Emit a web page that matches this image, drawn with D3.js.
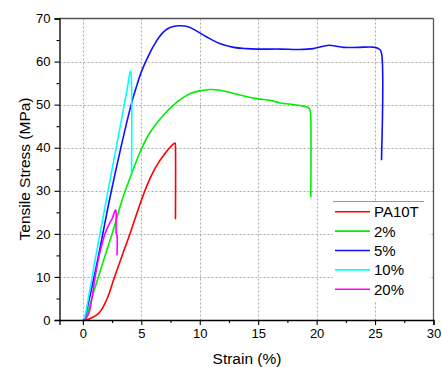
<!DOCTYPE html>
<html>
<head>
<meta charset="utf-8">
<script src="https://cdn.jsdelivr.net/npm/d3@7"></script>
<style>
html,body{margin:0;padding:0;background:#fff;}
svg text{font-family:"Liberation Sans",Arial,sans-serif;}
</style>
</head>
<body>
<svg id="chart" width="442" height="367"></svg>
<script>
const seriesNames = ["PA10T", "2%", "5%", "10%", "20%"];
const seriesColors = ["#ff0000", "#00ee00", "#1010ff", "#00ffff", "#ff00ff"];
const xTicks = [0, 5, 10, 15, 20, 25, 30];
const yTicks = [0, 10, 20, 30, 40, 50, 60, 70];

const pa10t = [[0,0],[0.5,0.2],[0.9,0.7],[1.3,1.4],[1.6,2.4],[1.9,3.9],[2.2,5.8],[2.62,9.3],[3.3,14.5],[4.04,20.1],[4.9,27],[5.5,31.3],[6.2,35.3],[7.0,38.6],[7.6,40.5],[7.89,41.1],[7.92,40],[7.92,23.4]];
const s2 = [[0,0],[0.2,0.4],[0.6,3.5],[1.0,7.2],[1.5,11.5],[2.0,15.8],[2.5,20.0],[3.0,24.6],[3.4,28.2],[4.2,34.2],[4.9,39],[5.6,42.9],[6.3,45.6],[7.0,47.9],[7.75,49.9],[8.5,51.5],[9.2,52.6],[10,53.2],[10.9,53.5],[11.6,53.4],[12.3,53.0],[13.5,52.2],[14.9,51.4],[16,51],[16.9,50.4],[18,50],[18.85,49.65],[19.3,49.3],[19.45,48.6],[19.5,47],[19.5,28.5]];
const s5 = [[0,0],[0.1,0],[0.3,2],[1.0,10.5],[1.6,18.5],[2.27,27.8],[3.3,40.6],[4.16,50.3],[4.6,54.3],[5.0,57.6],[5.5,60.7],[6.0,63.4],[6.5,65.6],[7.18,67.5],[7.8,68.2],[8.32,68.3],[9,68.1],[9.6,67.3],[10.6,65.7],[11.7,64.2],[12.9,63.3],[14,63.0],[14.9,62.9],[16.9,62.9],[18.5,62.8],[19.7,63.0],[20.5,63.5],[21.1,63.8],[21.6,63.6],[22.3,63.3],[23.5,63.3],[25.0,63.3],[25.4,62.8],[25.55,62],[25.55,37.1]];
const s10 = [[0,0],[0.1,0.2],[0.5,5.5],[1.0,13.2],[1.45,19.8],[2.0,27.8],[2.6,36.4],[3.3,46.5],[3.8,53.8],[4.07,57.8],[4.12,57.5],[4.16,55],[4.16,34.2]];
const s20 = [[0,0],[0.2,0.2],[0.5,1.5],[0.8,5.5],[1.05,10],[1.4,15],[1.9,20.1],[2.2,22],[2.5,23.5],[2.78,25.5],[2.83,25.3],[2.86,20],[2.92,19.6],[2.92,15]];
const seriesData = [pa10t, s2, s5, s10, s20];

const svg = d3.select("#chart");
const L = 59.5, R = 433.5, T = 18.5, B = 320;
const x = d3.scaleLinear().domain([-2, 30]).range([L, R]);
const y = d3.scaleLinear().domain([0, 70]).range([B, T]);

// grid
const grid = svg.append("g").attr("stroke", "#aaa").attr("stroke-width", 1).attr("stroke-dasharray", "2,2");
[0,5,10,15,20,25].forEach(v => grid.append("line").attr("x1", Math.round(x(v))+0.5).attr("x2", Math.round(x(v))+0.5).attr("y1", T).attr("y2", B));
[10,20,30,40,50,60].forEach(v => grid.append("line").attr("y1", Math.round(y(v))+0.5).attr("y2", Math.round(y(v))+0.5).attr("x1", L).attr("x2", R));

// frame top/right
svg.append("line").attr("x1", L).attr("x2", R).attr("y1", T).attr("y2", T).attr("stroke", "#555").attr("stroke-width", 1.3);
svg.append("line").attr("x1", R).attr("x2", R).attr("y1", T).attr("y2", B).attr("stroke", "#555").attr("stroke-width", 1.3);

// data lines
const line = d3.line().curve(d3.curveCatmullRom.alpha(0.5)).x(d => x(d[0])).y(d => y(d[1]));
seriesData.forEach((d, i) => {
  svg.append("path").datum(d).attr("d", line).attr("fill", "none")
    .attr("stroke", seriesColors[i]).attr("stroke-width", 1.6).attr("stroke-linejoin", "round");
});

// axes
const xAxis = d3.axisBottom(x).tickValues(xTicks).tickSize(5).tickPadding(4).tickFormat(d3.format("d"));
const xMinor = d3.axisBottom(x).tickValues([2.5,7.5,12.5,17.5,22.5,27.5]).tickSize(3).tickFormat("");
const yAxis = d3.axisLeft(y).tickValues(yTicks).tickSize(5).tickPadding(4).tickFormat(d3.format("d"));
const yMinor = d3.axisLeft(y).tickValues([5,15,25,35,45,55,65]).tickSize(3).tickFormat("");

function style(g){
  g.select(".domain").attr("stroke", "#000").attr("stroke-width", 1.3);
  g.selectAll(".tick line").attr("stroke", "#000").attr("stroke-width", 1.1);
  g.selectAll("text").attr("fill", "#000").style("font-size", "13px");
}
svg.append("g").attr("transform", `translate(0,${B})`).call(xMinor).call(style).select(".domain").remove();
svg.append("g").attr("transform", `translate(${L},0)`).call(yMinor).call(style).select(".domain").remove();
svg.append("g").attr("transform", `translate(0,${B})`).call(xAxis).call(style);
svg.append("g").attr("transform", `translate(${L},0)`).call(yAxis).call(style);

// titles
svg.append("text").attr("x", 247).attr("y", 364).attr("text-anchor", "middle")
  .style("font-size", "15.5px").text("Strain (%)");
svg.append("text").attr("transform", "translate(30,169) rotate(-90)").attr("text-anchor", "middle")
  .style("font-size", "15.5px").text("Tensile Stress (MPa)");

// legend
const lg = svg.append("g");
lg.append("rect").attr("x", 333).attr("y", 201).attr("width", 96).attr("height", 100).attr("fill", "#fff");
lg.append("line").attr("x1", 333).attr("x2", 424).attr("y1", 201.5).attr("y2", 201.5).attr("stroke", "#999").attr("stroke-width", 1);
seriesNames.forEach((n, i) => {
  const yy = 211.7 + i * 19.4;
  lg.append("line").attr("x1", 335).attr("x2", 370).attr("y1", yy).attr("y2", yy)
    .attr("stroke", seriesColors[i]).attr("stroke-width", 1.6);
  lg.append("text").attr("x", 374).attr("y", yy + 5.5).style("font-size", "15px").attr("fill", "#000").text(n);
});
</script>
</body>
</html>
